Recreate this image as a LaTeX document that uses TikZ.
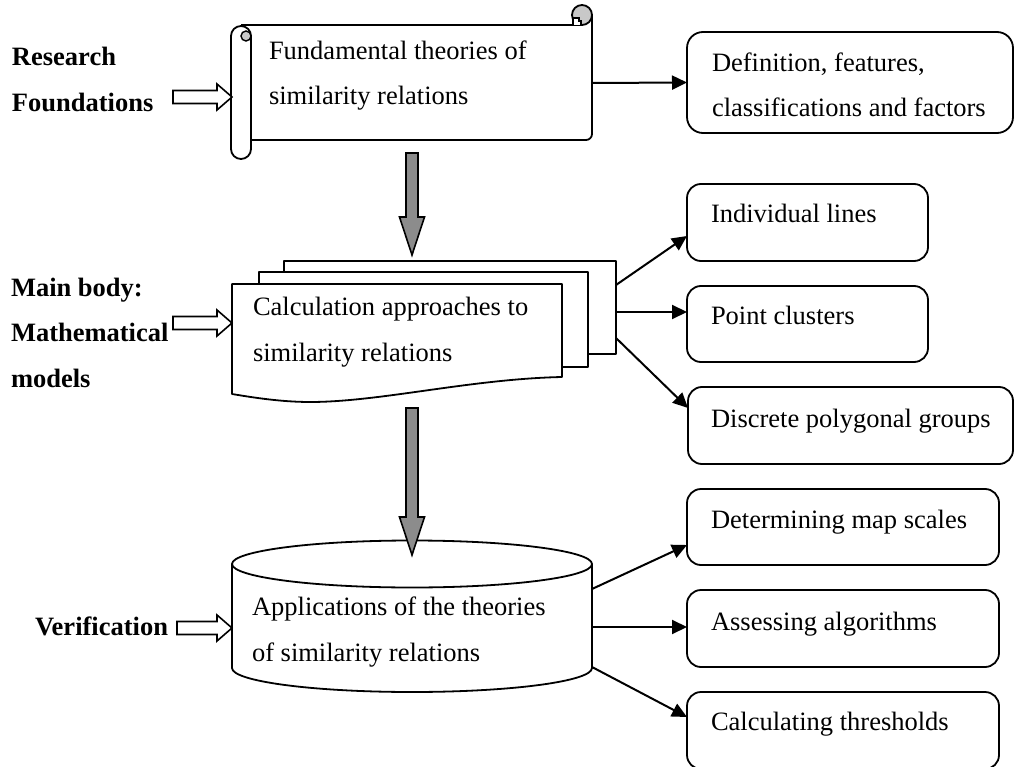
\documentclass[tikz,border=0pt]{standalone}
\usepackage{fontspec}
\setmainfont{Liberation Serif}
\usetikzlibrary{arrows.meta,calc}
\definecolor{arrowgray}{RGB}{140,140,140}
\definecolor{curlgray}{RGB}{200,200,200}
\begin{document}
\begin{tikzpicture}[x=1pt,y=-1pt,
  shp/.style={draw=black, line width=1.8pt, fill=white, line join=round},
  txt/.style={inner sep=0pt, outer sep=0pt, anchor=base west, align=left, font=\fontsize{26.5pt}{45.5pt}\selectfont},
  lbl/.style={txt, font=\fontsize{26.5pt}{45.5pt}\selectfont\bfseries},
  rbox/.style={draw=black, line width=1.8pt, rounded corners=14pt, fill=white, inner sep=0pt, outer sep=0pt, anchor=north west},
  conn/.style={draw=black, line width=2pt, -{Triangle[length=15pt,width=14pt]}},
  pics/graydown/.style={code={\draw[draw=black, line width=1.6pt, fill=arrowgray, line join=miter] (-6,-#1) -- (6,-#1) -- (6,-38) -- (12.5,-38) -- (0,0) -- (-12.5,-38) -- (-6,-38) -- cycle;}},
  pics/hollowright/.style={code={\draw[draw=black, line width=1.6pt, fill=white, line join=miter] (-#1,-6.5) -- (-15,-6.5) -- (-15,-13) -- (0,0) -- (-15,13) -- (-15,6.5) -- (-#1,6.5) -- cycle;}},
]
\useasboundingbox (0,0) rectangle (1014,767);

% ---------- scroll ----------
\fill[white] (241,25) rectangle (592,140);
\draw[shp, fill=none, rounded corners=6pt] (241,140) -- (592,140) -- (592,15);
\draw[shp, fill=none] (241,25) -- (582,25);
\draw[shp, fill=curlgray] (582,15) circle[radius=10];
\draw[line width=1.4pt, fill=white] (573,25) -- (573,18) -- (579,18) -- (579,21) -- (581,21) -- (581,25);
\draw[shp] (231,36) -- (231,149) arc[start angle=180,end angle=0,radius=10] -- (251,36) arc[start angle=0,end angle=-180,radius=10] -- cycle;
\draw[line width=1.4pt, fill=curlgray] (246,36) circle[radius=5];
% multi-line nodes: base anchor = baseline of the last line
\node[txt] (tscroll) at (269,105) {Fundamental theories of\\similarity relations};
\coordinate (scrollE) at (592,83);

% ---------- document stack ----------
\node[shp, anchor=north west, minimum width=332pt, minimum height=93pt, inner sep=0pt, outer sep=0pt] (docback) at (284,261) {};
\draw[shp] (259,272) rectangle (588,367);
\draw[shp] (232,284) -- (562,284) -- (562,377) .. controls (470,379) and (380,402) .. (310,402) .. controls (280,402) and (250,397) .. (232,394) -- cycle;
\node[txt] (tstack) at (253,361) {Calculation approaches to\\similarity relations};

% ---------- cylinder ----------
\draw[shp] (232,564) -- (232,668) arc[start angle=180,end angle=0,x radius=180,y radius=24] -- (592,564);
\draw[shp] (412,564) ellipse[x radius=180, y radius=23.5];
\node[txt] (tcyl) at (252,661) {Applications of the theories\\of similarity relations};
\coordinate (cyl1) at (592,589);
\coordinate (cyl2) at (592,627);
\coordinate (cyl3) at (592,667);

% ---------- gray block arrows ----------
\coordinate (g1tip) at (412,255);
\pic at (g1tip) {graydown=102};
\coordinate (g2tip) at (412,555);
\pic at (g2tip) {graydown=147};

% ---------- left labels and hollow arrows ----------
\node[lbl] (lres) at (12,111.5) {Research\\Foundations};
\node[lbl] (lmain) at (11,387) {Main body:\\Mathematical\\models};
\node[lbl] (lver) at (35,635) {Verification};
\coordinate (inScroll) at (232,97);
\coordinate (inStack) at (232,323);
\coordinate (inCyl) at (232,628);
\pic at (inScroll) {hollowright=59};
\pic at (inStack) {hollowright=59};
\pic at (inCyl) {hollowright=55};

% ---------- right boxes ----------
\node[rbox, rounded corners=16pt, minimum width=326pt, minimum height=101pt] (bdef) at (687,32) {};
\node[txt] (tdef) at ($(bdef.north west)+(25,85)$) {Definition, features,\\classifications and factors};
\node[rbox, minimum width=241pt, minimum height=77pt] (bind) at (687,184) {};
\node[txt] (tind) at ($(bind.north west)+(24,39)$) {Individual lines};
\node[rbox, minimum width=241pt, minimum height=76pt] (bpc) at (687,286) {};
\node[txt] (tpc) at ($(bpc.north west)+(24,38)$) {Point clusters};
\node[rbox, minimum width=325pt, minimum height=77pt] (bdpg) at (688,387) {};
\node[txt] (tdpg) at ($(bdpg.north west)+(23,40)$) {Discrete polygonal groups};
\node[rbox, minimum width=312pt, minimum height=76pt] (bdms) at (687,489) {};
\node[txt] (tdms) at ($(bdms.north west)+(24,39)$) {Determining map scales};
\node[rbox, minimum width=312pt, minimum height=77pt] (bass) at (687,590) {};
\node[txt] (tass) at ($(bass.north west)+(24,40)$) {Assessing algorithms};
\node[rbox, minimum width=312pt, minimum height=77pt] (bcal) at (687,692) {};
\node[txt] (tcal) at ($(bcal.north west)+(24,38)$) {Calculating thresholds};

% ---------- connectors ----------
\draw[conn] (scrollE) -- (bdef.west);
\draw[conn] ([yshift=22.5pt]docback.east) -- ([yshift=-13.5pt]bind.west);
\draw[conn] ([yshift=-4.5pt]docback.east) -- ([yshift=12pt]bpc.west);
\draw[conn] ([yshift=-30.5pt]docback.east) -- ([yshift=17.5pt]bdpg.west);
\draw[conn] (cyl1) -- ([yshift=-18pt]bdms.west);
\draw[conn] (cyl2) -- ([yshift=1.5pt]bass.west);
\draw[conn] (cyl3) -- ([yshift=13.5pt]bcal.west);
\end{tikzpicture}
\end{document}
